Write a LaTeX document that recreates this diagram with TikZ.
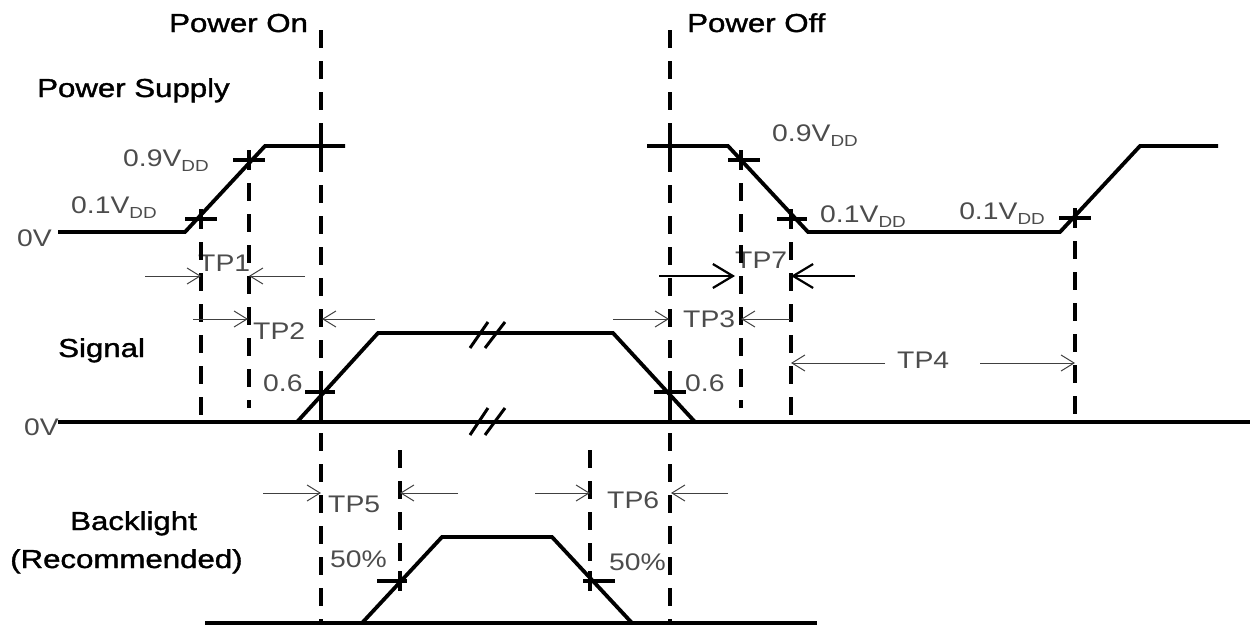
\documentclass[tikz,border=0pt]{standalone}
\usepackage{fontspec}
\setmainfont{Liberation Sans}
\newfontfamily\heavyfont[FakeBold=1.2]{Liberation Sans}
\usetikzlibrary{arrows.meta}
\tikzset{
 wave/.style={line width=3.8pt, line join=miter},
 dline/.style={line width=4.5pt, dash pattern=on 18pt off 13pt},
 tickmark/.style={line width=3.8pt},
 brk/.style={line width=3pt},
 dim/.style={line width=1pt, black!75, -{Straight Barb[length=13pt,width=16pt,line width=1pt]}},
 dimthick/.style={line width=2.2pt, -{Straight Barb[length=20pt,width=24pt,line width=2.2pt]}},
 title/.style={font=\heavyfont\fontsize{26}{30}\selectfont, xscale=1.2, inner sep=0pt, anchor=base west},
 lbl/.style={font=\fontsize{24}{28}\selectfont, xscale=1.18, inner sep=0pt, anchor=base west, text=black!70},
}
\newcommand{\VDD}{V\raisebox{-5pt}{\fontsize{16}{16}\selectfont DD}}
\begin{document}
\begin{tikzpicture}[x=1pt,y=-1pt]
\useasboundingbox (0,0) rectangle (1252,629);

% ---------- text labels ----------
\node[title] (pon) at (169,32) {Power On};
\node[title] (poff) at (687,32) {Power Off};
\node[title] (ps) at (37,97) {Power Supply};
\node[title] (sig) at (58,357) {Signal};
\node[title] (bl) at (70,530) {Backlight};
\node[title] (rec) at (10,568) {(Recommended)};

\node[lbl] (l09a) at (123,166) {0.9\VDD};
\node[lbl] (l01a) at (71,213) {0.1\VDD};
\node[lbl] (l0va) at (17,246) {0V};
\node[lbl] (l09b) at (772,141) {0.9\VDD};
\node[lbl] (l01b) at (820,222) {0.1\VDD};
\node[lbl] (l01c) at (959,219) {0.1\VDD};
\node[lbl] (l0vb) at (24,435) {0V};
\node[lbl] (l06a) at (263,391) {0.6};
\node[lbl] (l06b) at (685,391) {0.6};
\node[lbl] (l50a) at (330,567) {50\%};
\node[lbl] (l50b) at (609,570) {50\%};
\node[lbl] (tp1) at (198,271) {TP1};
\node[lbl] (tp2) at (253,339) {TP2};
\node[lbl] (tp3) at (683,327) {TP3};
\node[lbl] (tp4) at (897,368) {TP4};
\node[lbl] (tp5) at (328,512) {TP5};
\node[lbl] (tp6) at (607,508) {TP6};
\node[lbl] (tp7) at (735,268) {TP7};

% ---------- dashed vertical lines ----------
\draw[dline] (321,30) -- (321,622);
\draw[dline] (670,30) -- (670,622);
\draw[dline] (201,211) -- (201,422);
\draw[dline] (249,152) -- (249,408);
\draw[dline] (741,152) -- (741,408);
\draw[dline] (791,211) -- (791,422);
\draw[dline] (1075,210) -- (1075,422);
\draw[dline] (400,450) -- (400,588);
\draw[dline] (590,450) -- (590,588);

% ---------- power supply ----------
\draw[wave] (58,232) -- (185,232) -- (265,146) -- (345,146);
\draw[wave] (647,146) -- (728,146) -- (808,232) -- (1060,232) -- (1140,146) -- (1218,146);
% ---------- signal ----------
\draw[wave] (58,422) -- (1250,422);
\draw[wave] (297,422) -- (378,333) -- (613,333) -- (695,422);
\draw[brk] (470,348) -- (488,322) (485,348) -- (505,322);
\draw[brk] (470,435) -- (488,408) (485,435) -- (505,408);
% ---------- backlight ----------
\draw[wave] (205,623) -- (817,623);
\draw[wave] (362,623) -- (442,537) -- (552,537) -- (632,623);

% ---------- tick marks ----------
\draw[tickmark] (185,219) -- (217,219) (201,209) -- (201,229);
\draw[tickmark] (233,160) -- (265,160) (249,150) -- (249,170);
\draw[tickmark] (321,134) -- (321,156) (670,134) -- (670,156);
\draw[tickmark] (728,160) -- (760,160) (741,150) -- (741,170);
\draw[tickmark] (777,219) -- (807,219) (791,209) -- (791,229);
\draw[tickmark] (1059,218) -- (1091,218) (1075,208) -- (1075,228);
\draw[tickmark] (305,392) -- (335,392) (321,382) -- (321,402);
\draw[tickmark] (654,392) -- (686,392) (670,382) -- (670,402);
\draw[tickmark] (377,581) -- (407,581) (400,571) -- (400,591);
\draw[tickmark] (583,581) -- (615,581) (590,571) -- (590,591);

% ---------- dimension arrows ----------
\coordinate (a1s) at (145,276); \coordinate (a1e) at (201,276);
\coordinate (b1s) at (305,276); \coordinate (b1e) at (249,276);
\coordinate (a2s) at (193,319); \coordinate (a2e) at (248,319);
\coordinate (b2s) at (375,319); \coordinate (b2e) at (322,319);
\coordinate (a3s) at (613,319); \coordinate (a3e) at (669,319);
\coordinate (b3s) at (790,319); \coordinate (b3e) at (741,319);
\coordinate (a7s) at (659,276); \coordinate (a7e) at (735,276);
\coordinate (b7s) at (855,276); \coordinate (b7e) at (791,276);
\coordinate (a4s) at (885,363); \coordinate (a4e) at (791,363);
\coordinate (b4s) at (980,363); \coordinate (b4e) at (1075,363);
\coordinate (a5s) at (263,493); \coordinate (a5e) at (321,493);
\coordinate (b5s) at (458,493); \coordinate (b5e) at (400,493);
\coordinate (a6s) at (535,493); \coordinate (a6e) at (590,493);
\coordinate (b6s) at (728,493); \coordinate (b6e) at (671,493);
\draw[dim] (a1s) -- (a1e);
\draw[dim] (b1s) -- (b1e);
\draw[dim] (a2s) -- (a2e);
\draw[dim] (b2s) -- (b2e);
\draw[dim] (a3s) -- (a3e);
\draw[dim] (b3s) -- (b3e);
\draw[dimthick] (a7s) -- (a7e);
\draw[dimthick] (b7s) -- (b7e);
\draw[dim] (a4s) -- (a4e);
\draw[dim] (b4s) -- (b4e);
\draw[dim] (a5s) -- (a5e);
\draw[dim] (b5s) -- (b5e);
\draw[dim] (a6s) -- (a6e);
\draw[dim] (b6s) -- (b6e);
\end{tikzpicture}
\end{document}
